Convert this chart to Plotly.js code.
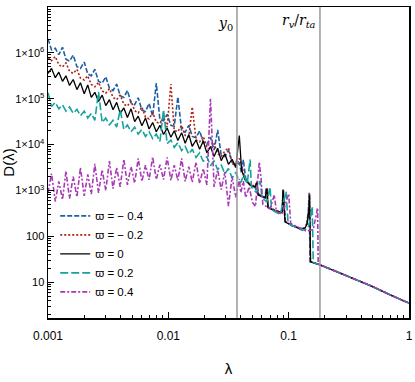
<!DOCTYPE html>
<html>
<head>
<meta charset="utf-8">
<script src="https://cdn.plot.ly/plotly-3.0.1.min.js"></script>
<style>
  html, body { margin: 0; padding: 0; background: #fff; }
  #chart { width: 415px; height: 382px; }
</style>
</head>
<body>
<div id="chart"></div>
<script>
// lambda grid of the noisy part (shared by all curves)
const lamA = [0.001, 0.00107, 0.00115, 0.00123, 0.00132, 0.00141, 0.00151, 0.00162, 0.00174, 0.00186,
  0.00200, 0.00214, 0.00229, 0.00245, 0.00263, 0.00282, 0.00302, 0.00324, 0.00347, 0.00372,
  0.00398, 0.00427, 0.00457, 0.00490, 0.00525, 0.00562, 0.00603, 0.00646, 0.00692, 0.00741,
  0.00794, 0.00851, 0.00912, 0.00977, 0.0105, 0.0112, 0.0120, 0.0129, 0.0138, 0.0148,
  0.0158, 0.0170, 0.0182, 0.0195, 0.0209, 0.0224, 0.0240, 0.0257, 0.0275, 0.0295,
  0.0316, 0.0339, 0.0363, 0.0389];

// D(lambda) on that grid
const dBlue = [2.0e6, 1.17e6, 1.26e6, 912000, 1.32e6, 724000, 661000, 891000, 501000, 457000,
  631000, 347000, 316000, 437000, 240000, 219000, 302000, 170000, 151000, 209000,
  117000, 107000, 151000, 81300, 74100, 105000, 56200, 52500, 79400, 41700,
  219000, 34700, 33100, 45700, 26300, 25100, 110000, 20000, 18600, 26300,
  15100, 14100, 20000, 11200, 10000, 14500, 7590, 20900, 5890, 5500,
  7590, 4070, 3720, 3980];
const dRed = [794000, 676000, 832000, 550000, 490000, 603000, 398000, 355000, 437000, 282000,
  257000, 316000, 204000, 182000, 229000, 148000, 132000, 166000, 107000, 95500,
  120000, 75900, 69200, 89100, 55000, 49000, 66100, 39800, 36300, 50100,
  30900, 28800, 39800, 24000, 209000, 20400, 19100, 26300, 15800, 14800,
  66100, 12600, 11500, 15100, 8910, 7940, 10500, 6310, 5500, 7240,
  8510, 3890, 3390, 5010];
const dBlack = [355000, 457000, 288000, 380000, 240000, 316000, 195000, 263000, 158000, 224000,
  129000, 200000, 107000, 138000, 87100, 120000, 70800, 95500, 57500, 83200,
  47900, 63100, 38900, 60300, 31600, 41700, 25700, 38000, 21900, 30200,
  19100, 26300, 16600, 22900, 14500, 20000, 12300, 18200, 10700, 16600,
  9120, 12600, 7940, 12000, 6610, 9120, 5500, 8320, 4470, 6310,
  3720, 4790, 3160, 15800];
const dTeal = [135000, 67600, 83200, 60300, 74100, 53700, 66100, 47900, 58900, 42700,
  53700, 38000, 47900, 33900, 141000, 30200, 38000, 26900, 33900, 24000,
  57500, 21400, 26900, 19100, 24000, 17000, 21400, 15100, 19100, 13500,
  17000, 11700, 57500, 10500, 12600, 8710, 11000, 7410, 9120, 6170,
  7940, 5250, 6610, 4270, 5500, 3470, 4470, 2820, 3630, 2290,
  3020, 1860, 2510, 1510];
const dMagenta = [891, 2340, 575, 1580, 631, 2630, 661, 2000, 724, 3160,
  759, 2240, 832, 3800, 891, 2820, 1000, 4370, 1100, 3160,
  1200, 4790, 1320, 3310, 1450, 5010, 1580, 3550, 1700, 5370,
  1740, 3630, 1740, 5250, 1660, 3550, 1660, 5010, 1580, 3310,
  1510, 4170, 1410, 3020, 1320, 100000, 1200, 2820, 1050, 2510,
  457, 2000, 708, 1780];

// stepped part between y0 and the drop
const stepLamBlue = [0.0406, 0.0420, 0.0440, 0.0478, 0.0526, 0.0557, 0.0637, 0.0650, 0.0674, 0.0771,
  0.0882, 0.0905, 0.0940, 0.1067, 0.1244, 0.1368, 0.1420, 0.1460, 0.1480, 0.1505];
const stepDBlue = [2400, 4700, 1800, 1350, 1150, 850, 700, 1150, 430, 370,
  320, 1000, 210, 172, 148, 152, 190, 400, 900, 28];
const stepLamRed = [0.0400, 0.0434, 0.0478, 0.0526, 0.0546, 0.0557, 0.0637, 0.0661, 0.0674, 0.0771,
  0.0882, 0.0898, 0.0933, 0.1067, 0.1244, 0.1368, 0.1420, 0.1470, 0.1493, 0.1515];
const stepDRed = [4000, 1800, 1350, 1250, 1600, 820, 700, 1150, 430, 370,
  340, 1050, 210, 172, 148, 155, 195, 380, 850, 28];
const stepLamBlack = [0.0406, 0.0434, 0.0478, 0.0526, 0.0546, 0.0557, 0.0637, 0.0661, 0.0674, 0.0771,
  0.0882, 0.0898, 0.0933, 0.1067, 0.1244, 0.1368, 0.1420, 0.1470, 0.1493, 0.1521];
const stepDBlack = [2810, 1700, 1300, 1200, 1500, 800, 690, 1100, 420, 360,
  330, 1030, 207, 170, 145, 150, 185, 350, 800, 28];
const stepLamTeal = [0.0400, 0.0425, 0.0452, 0.0478, 0.0490, 0.0540, 0.0580, 0.0600, 0.0660, 0.0700,
  0.0720, 0.0850, 0.0950, 0.0990, 0.1130, 0.1300, 0.1450, 0.1530, 0.1570, 0.1600];
const stepDTeal = [1500, 2200, 1400, 4700, 1200, 900, 1600, 700, 560, 1200,
  380, 300, 950, 190, 160, 135, 150, 280, 450, 27];
const stepLamMagenta = [0.0400, 0.0420, 0.0440, 0.0470, 0.0500, 0.0530, 0.0570, 0.0590, 0.0610, 0.0650,
  0.0700, 0.0760, 0.0790, 0.0880, 0.1000, 0.1040, 0.1200, 0.1400, 0.1600, 0.1680, 0.1740, 0.1760];
const stepDMagenta = [900, 1600, 700, 1200, 550, 450, 4200, 1800, 500, 450,
  400, 800, 350, 300, 850, 190, 160, 130, 140, 250, 420, 25];

// smooth tail shared by all curves
const lamTail = [0.182, 0.22, 0.266, 0.32, 0.371, 0.5, 0.697, 0.85, 1.0];
const dTail = [24, 19.6, 16, 13.2, 11.3, 8.0, 5.3, 4.2, 3.5];

const names = ['ϖ = − 0.4', 'ϖ = − 0.2', 'ϖ = 0', 'ϖ = 0.2', 'ϖ = 0.4'];
const colors = ['#1f5fa5', '#b02318', '#000000', '#17a39c', '#a83ab5'];
const dashes = ['5px,2px', '2px,2px', 'solid', '8px,3px', '5px,2px,2px,2px'];

const refLines = [0.0372, 0.182];
const refLabels = ['<i>y</i><sub>0</sub>', '<i>r<sub>v</sub></i>/<i>r<sub>ta</sub></i>'];

const yTickVals = [10, 100, 1e3, 1e4, 1e5, 1e6];
const yTickText = ['10', '100', '1×10<sup>3</sup>', '1×10<sup>4</sup>', '1×10<sup>5</sup>', '1×10<sup>6</sup>'];
const xTickVals = [0.001, 0.01, 0.1, 1];
const xTickText = ['0.001', '0.01', '0.1', '1'];

const heads = [dBlue, dRed, dBlack, dTeal, dMagenta];
const stepX = [stepLamBlue, stepLamRed, stepLamBlack, stepLamTeal, stepLamMagenta];
const stepY = [stepDBlue, stepDRed, stepDBlack, stepDTeal, stepDMagenta];

const data = names.map((n, i) => ({
  type: 'scatter',
  mode: 'lines',
  name: n,
  x: lamA.concat(stepX[i], lamTail),
  y: heads[i].concat(stepY[i], dTail),
  line: { color: colors[i], width: i === 2 ? 1.3 : 1.6, dash: dashes[i] }
}));

// minor ticks 2..9 in every decade
const minorX = [], minorY = [];
for (let e = -3; e < 0; e++) for (let m = 2; m < 10; m++) minorX.push(m * Math.pow(10, e));
for (let e = 0; e < 7; e++) for (let m = 2; m < 10; m++) minorY.push(m * Math.pow(10, e));

const layout = {
  width: 415,
  height: 382,
  margin: { l: 48, r: 6, t: 7, b: 64 },
  paper_bgcolor: '#fff',
  plot_bgcolor: '#fff',
  font: { family: 'Liberation Sans, Arial, sans-serif', size: 12, color: '#000' },
  showlegend: true,
  legend: {
    x: 0.02, y: 0.375, xanchor: 'left', yanchor: 'top',
    bgcolor: 'rgba(0,0,0,0)', font: { size: 11.5 }
  },
  xaxis: {
    type: 'log',
    range: [-3, 0],
    showgrid: false, zeroline: false,
    showline: true, linecolor: '#000', linewidth: 1.5, mirror: true,
    ticks: 'inside', ticklen: 6, tickcolor: '#000',
    ticklabelstandoff: 6,
    tickvals: xTickVals, ticktext: xTickText,
    minor: { ticks: 'inside', ticklen: 3, tickcolor: '#000', tickvals: minorX },
    title: { text: 'λ', font: { size: 15 } }
  },
  yaxis: {
    type: 'log',
    range: [0.22, 7],
    showgrid: false, zeroline: false,
    showline: true, linecolor: '#000', linewidth: 1.5, mirror: true,
    ticks: 'inside', ticklen: 6, tickcolor: '#000',
    tickfont: { size: 11 },
    tickvals: yTickVals, ticktext: yTickText,
    minor: { ticks: 'inside', ticklen: 3, tickcolor: '#000', tickvals: minorY },
    title: { text: 'D(λ)', font: { size: 15 } }
  },
  shapes: refLines.map(v => ({
    type: 'line', xref: 'x', yref: 'paper', x0: v, x1: v, y0: 0, y1: 1,
    line: { color: '#999', width: 1.5 }
  })),
  annotations: refLines.map((v, i) => ({
    x: Math.log10(v), xref: 'x', y: i === 0 ? 0.945 : 0.955, yref: 'paper',
    xanchor: 'right', yanchor: 'middle', xshift: -2, showarrow: false,
    text: refLabels[i],
    font: { family: 'DejaVu Serif, Liberation Serif, serif', size: 14, color: '#000' }
  }))
};

Plotly.newPlot('chart', data, layout, { staticPlot: true, displayModeBar: false });
</script>
</body>
</html>
